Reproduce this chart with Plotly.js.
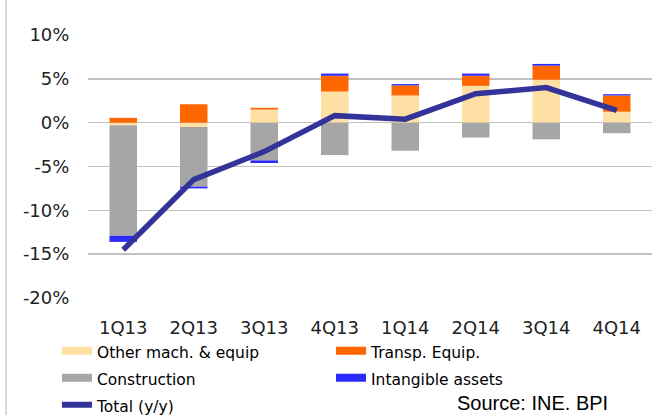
<!DOCTYPE html>
<html>
<head>
<meta charset="utf-8">
<script src="https://cdn.plot.ly/plotly-3.0.1.min.js"></script>
<style>html,body{margin:0;padding:0;background:#fff;}#chart{width:653px;height:415px;}</style>
</head>
<body>
<div id="chart"></div>
<script>
const categories = ['1Q13','2Q13','3Q13','4Q13','1Q14','2Q14','3Q14','4Q14'];
const otherMach = [-0.3, -0.5, 1.5, 3.55, 3.1, 4.2, 4.9, 1.25];
const transpEquip = [0.55, 2.1, 0.2, 1.8, 1.15, 1.15, 1.6, 1.85];
const construction = [-12.6, -6.8, -4.3, -3.7, -3.2, -1.7, -1.9, -1.2];
const intangible = [-0.7, -0.2, -0.3, 0.25, 0.15, 0.25, 0.2, 0.15];
const totalYY = [-14.5, -6.5, -3.3, 0.8, 0.4, 3.3, 4.0, 1.4];
const yTickVals = [-20, -15, -10, -5, 0, 5, 10];
const yTickText = ['-20%', '-15%', '-10%', '-5%', '0%', '5%', '10%'];

const C = {other:'#FEDFA4', transp:'#FF6600', constr:'#A6A6A6', intang:'#2B2BFF', total:'#333399'};
const FONT = 'Liberation Sans, Arial, sans-serif';
const TICKFONT = 'DejaVu Sans, sans-serif';

function bar(name, y, color) {
  return {type:'bar', name:name, x:categories, y:y, marker:{color:color}, showlegend:false, hoverinfo:'skip'};
}
function lbl(s) { return '<span style="font-size:15.5px">' + s + '</span>'; }
function legendSwatch(name, color, w) {
  return {type:'scatter', mode:'lines', name:lbl(name), x:[null], y:[null], line:{color:color, width:w}, hoverinfo:'skip'};
}

const data = [
  bar('Other mach. & equip', otherMach, C.other),
  bar('Transp. Equip.', transpEquip, C.transp),
  bar('Construction', construction, C.constr),
  bar('Intangible assets', intangible, C.intang),
  {type:'scatter', mode:'lines', name:'Total (y/y)', x:categories, y:totalYY,
   line:{color:C.total, width:5.5}, showlegend:false, hoverinfo:'skip'},
  legendSwatch('Other mach. &amp; equip', C.other, 8),
  legendSwatch('Transp. Equip.', C.transp, 8),
  legendSwatch('Construction', C.constr, 8),
  legendSwatch('Intangible assets', C.intang, 8),
  legendSwatch('Total (y/y)', C.total, 6)
];

const layout = {
  width:653, height:415,
  margin:{l:88, r:1, t:35, b:117, autoexpand:false},
  paper_bgcolor:'#fff', plot_bgcolor:'#fff',
  barmode:'relative', bargap:0.61,
  font:{family:FONT, color:'#000'},
  xaxis:{type:'category', showgrid:false, zeroline:false, showline:false, automargin:false,
    ticks:'outside', ticklen:13, tickcolor:'rgba(0,0,0,0)',
    tickfont:{size:18, family:TICKFONT, color:'#222'}},
  yaxis:{range:[-20, 10], tickvals:yTickVals, ticktext:yTickText, automargin:false,
    showgrid:true, gridcolor:'#C0C0C0', gridwidth:1.5,
    zeroline:true, zerolinecolor:'#C0C0C0', zerolinewidth:1.5,
    ticks:'outside', ticklen:14, tickcolor:'rgba(0,0,0,0)',
    tickfont:{size:18, family:TICKFONT, color:'#222'}},
  showlegend:true,
  legend:{orientation:'h', x:-0.055, xanchor:'left', y:-0.13, yanchor:'top',
    entrywidth:229, entrywidthmode:'pixels', traceorder:'normal',
    font:{size:18.5, family:'DejaVu Sans, sans-serif', color:'#000'}, bgcolor:'rgba(0,0,0,0)'},
  shapes:[{type:'line', xref:'paper', yref:'paper', x0:-0.1454, x1:-0.1454, y0:-0.5, y1:1.2,
    line:{color:'#D9D9D9', width:2}}],
  annotations:[
    {text:'Source: INE. BPI', xref:'paper', yref:'paper', x:0.65, y:-0.401, xanchor:'left', yanchor:'middle',
     showarrow:false, font:{size:20, family:FONT, color:'#000'}},
    {text:'(contributions to y/y growth)', xref:'paper', yref:'paper', x:-0.135, y:1.13, xanchor:'left', yanchor:'bottom',
     showarrow:false, font:{size:17, family:FONT, color:'#000'}}
  ]
};

Plotly.newPlot('chart', data, layout, {displayModeBar:false, staticPlot:true});
</script>
</body>
</html>
